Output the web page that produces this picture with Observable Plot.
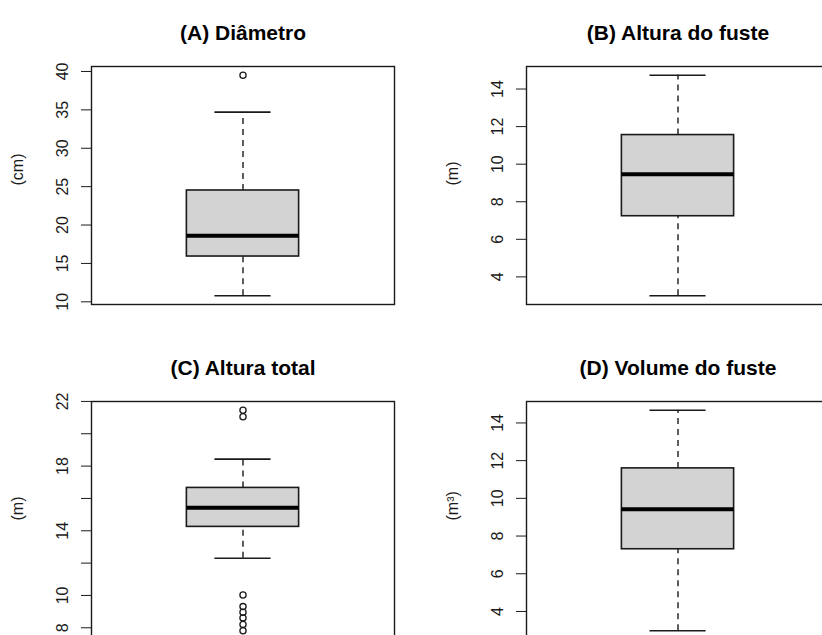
<!DOCTYPE html>
<html>
<head>
<meta charset="utf-8">
<script src="https://cdn.jsdelivr.net/npm/d3@7"></script>
<script src="https://cdn.jsdelivr.net/npm/@observablehq/plot@0.6"></script>
<style>
  html, body { margin: 0; padding: 0; background: #fff; overflow: hidden; }
  #grid { position: relative; width: 870px; height: 670px; }
  #grid > div { position: absolute; }
</style>
</head>
<body>
<div id="grid"></div>
<script>
// Panel titles and y-axis units
const panelTitles = ["(A) Diâmetro", "(B) Altura do fuste", "(C) Altura total", "(D) Volume do fuste"];
const unitLabels = ["(cm)", "(m)", "(m)", "(m³)"];

// Box statistics: lower whisker, Q1, median, Q3, upper whisker
const diametroStats = [10.8, 15.9, 18.6, 24.5, 34.7];
const alturaFusteStats = [3.0, 7.23, 9.46, 11.55, 14.73];
const alturaTotalStats = [12.3, 14.24, 15.42, 16.65, 18.43];
const volumeFusteStats = [2.98, 7.3, 9.42, 11.59, 14.67];

// Points beyond the whiskers
const diametroOutliers = [39.5];
const alturaFusteOutliers = [];
const alturaTotalOutliers = [21.45, 21.05, 10.03, 9.31, 8.96, 8.61, 8.21, 7.82];
const volumeFusteOutliers = [];

// Y-axis tick positions and the ones that carry a label
const diametroTicks = [10, 15, 20, 25, 30, 35, 40];
const diametroTickLabels = [10, 15, 20, 25, 30, 35, 40];
const alturaFusteTicks = [4, 6, 8, 10, 12, 14];
const alturaFusteTickLabels = [4, 6, 8, 10, 12, 14];
const alturaTotalTicks = [8, 10, 12, 14, 16, 18, 20, 22];
const alturaTotalTickLabels = [8, 10, 14, 18, 22];
const volumeFusteTicks = [4, 6, 8, 10, 12, 14];
const volumeFusteTickLabels = [4, 6, 8, 10, 12, 14];

const panels = [
  {stats: diametroStats, outliers: diametroOutliers, ticks: diametroTicks, labels: diametroTickLabels},
  {stats: alturaFusteStats, outliers: alturaFusteOutliers, ticks: alturaFusteTicks, labels: alturaFusteTickLabels},
  {stats: alturaTotalStats, outliers: alturaTotalOutliers, ticks: alturaTotalTicks, labels: alturaTotalTickLabels},
  {stats: volumeFusteStats, outliers: volumeFusteOutliers, ticks: volumeFusteTicks, labels: volumeFusteTickLabels}
];

const PW = 435, PH = 335;
const ink = "#1a1a1a";
const boxHalf = 0.2, capHalf = 0.1;

// pad a range by 4% on each side, as base graphics does
function padded(lo, hi) {
  const r = hi - lo;
  return [lo - 0.04 * r, hi + 0.04 * r];
}

function boxPanel(p, i) {
  const [lw, q1, med, q3, uw] = p.stats;
  const all = [lw, uw, ...p.outliers];
  const yDomain = padded(d3.min(all), d3.max(all));
  const xDomain = padded(0.5, 1.5);
  return Plot.plot({
    width: PW,
    height: PH,
    marginLeft: 91,
    marginRight: 41,
    marginTop: 66,
    marginBottom: 31,
    style: {fontFamily: "'Liberation Sans', Arial, sans-serif", fontSize: "16px", color: ink, background: "#fff"},
    x: {domain: xDomain, axis: null},
    y: {domain: yDomain, axis: null},
    marks: [
      Plot.axisY(p.ticks, {
        anchor: "left",
        tickSize: 10,
        tickPadding: 14,
        tickRotate: -90,
        stroke: ink,
        fill: ink,
        fontSize: 16,
        tickFormat: d => p.labels.includes(d) ? String(d) : "",
        label: null
      }),
      // dashed whiskers
      Plot.ruleX([[q3, uw], [lw, q1]], {
        x: () => 1, y1: d => d[0], y2: d => d[1],
        stroke: ink, strokeWidth: 1.4, strokeDasharray: "6,5"
      }),
      // whisker caps
      Plot.ruleY([lw, uw], {
        y: d => d, x1: () => 1 - capHalf, x2: () => 1 + capHalf,
        stroke: ink, strokeWidth: 1.6
      }),
      // interquartile box
      Plot.rect([p.stats], {
        x1: () => 1 - boxHalf, x2: () => 1 + boxHalf,
        y1: d => d[1], y2: d => d[3],
        fill: "#d3d3d3", stroke: ink, strokeWidth: 1.6
      }),
      // median
      Plot.ruleY([med], {
        y: d => d, x1: () => 1 - boxHalf, x2: () => 1 + boxHalf,
        stroke: "#000", strokeWidth: 4
      }),
      Plot.dot(p.outliers, {
        x: () => 1, y: d => d, r: 3.1,
        stroke: ink, strokeWidth: 1.3, fill: "none"
      }),
      Plot.frame({stroke: ink, strokeWidth: 1.4}),
      Plot.text([unitLabels[i]], {
        frameAnchor: "left", dx: -74, rotate: -90,
        fontSize: 16, fill: ink
      }),
      Plot.text([panelTitles[i]], {
        frameAnchor: "top", dy: -41,
        fontSize: 21, fontWeight: "bold", fill: "#000"
      })
    ]
  });
}

const grid = document.getElementById("grid");
panels.forEach((p, i) => {
  const cell = document.createElement("div");
  cell.style.left = (i % 2) * PW + "px";
  cell.style.top = Math.floor(i / 2) * PH + "px";
  cell.appendChild(boxPanel(p, i));
  grid.appendChild(cell);
});
</script>
</body>
</html>
